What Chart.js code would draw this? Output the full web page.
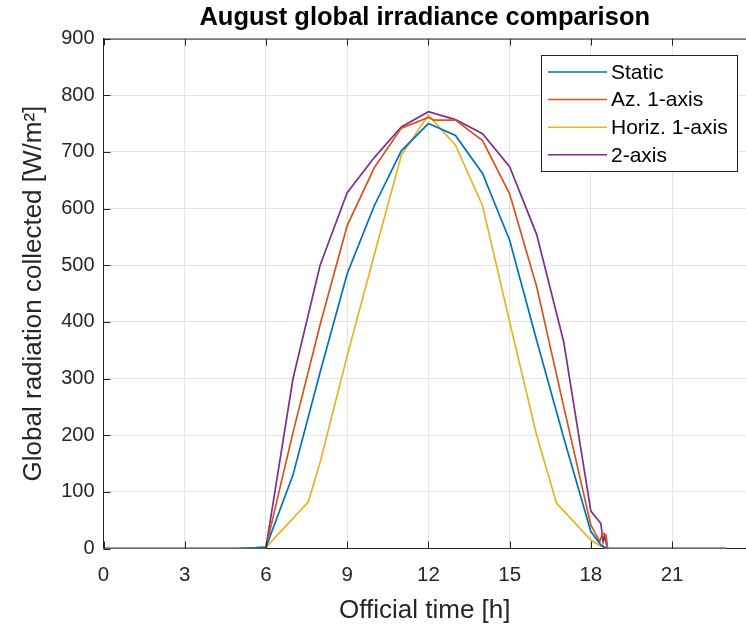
<!DOCTYPE html>
<html>
<head>
<meta charset="utf-8">
<script src="https://cdn.jsdelivr.net/npm/chart.js@4"></script>
<style>
  html, body { margin: 0; padding: 0; background: #fff; }
  #wrap { width: 746px; height: 626px; }
</style>
</head>
<body>
<div id="wrap"><canvas id="irr" width="746" height="626"></canvas></div>
<script>
// hours / values (W/m2)
const staticHours = [0, 1, 2, 3, 4, 5, 6, 7, 8, 9, 10, 11, 12, 13, 14, 15, 16, 17, 18, 18.37, 18.6, 19, 20, 21, 22, 23];
const staticValues = [0, 0, 0, 0, 0, 0, 2, 130, 311, 485, 605, 702, 750, 729, 662, 544, 367, 195, 30, 6, 0, 0, 0, 0, 0, 0];

const azHours = [0, 1, 2, 3, 4, 5, 6, 7, 8, 9, 10, 11, 12, 12.2, 13, 14, 15, 16, 17, 18, 18.33, 18.43, 18.56, 18.62, 19, 20, 21, 22, 23];
const azValues = [0, 0, 0, 0, 0, 0, 2, 205, 395, 570, 672, 742, 761, 756, 756, 720, 626, 462, 250, 41, 12, 27, 24, 0, 0, 0, 0, 0, 0];

const horizHours = [0, 1, 2, 3, 4, 5, 6, 7.56, 8, 9, 10, 11, 12, 13, 14, 15, 16, 16.73, 18, 18.37, 18.6, 19, 20, 21, 22, 23];
const horizValues = [0, 0, 0, 0, 0, 0, 2, 82, 152, 340, 518, 694, 765, 712, 605, 400, 200, 80, 15, 4, 0, 0, 0, 0, 0, 0];

const twoAxisHours = [0, 1, 2, 3, 4, 5, 6, 7, 8, 9, 10, 11, 12, 13, 14, 15, 16, 17, 18, 18.37, 18.45, 18.5, 18.62, 19, 20, 21, 22, 23];
const twoAxisValues = [0, 0, 0, 0, 0, 0, 2, 300, 500, 628, 690, 744, 771, 757, 732, 674, 554, 364, 66, 44, 12, 22, 0, 0, 0, 0, 0, 0];

const seriesLabels = ["Static", "Az. 1-axis", "Horiz. 1-axis", "2-axis"];
const seriesColors = ["#0072BD", "#D95319", "#EDB120", "#7E2F8E"];
const xTicks = [0, 3, 6, 9, 12, 15, 18, 21];

const FONT = "'Liberation Sans', Arial, Helvetica, sans-serif";
const AXIS = "#262626";

const toPoints = (hours, values) => hours.map((h, i) => ({ x: h, y: values[i] }));

const allSeries = [
  toPoints(staticHours, staticValues),
  toPoints(azHours, azValues),
  toPoints(horizHours, horizValues),
  toPoints(twoAxisHours, twoAxisValues),
];

// box on top + inward tick marks like matlab
const boxPlugin = {
  id: "boxTicks",
  afterDatasetsDraw(chart) {
    const { ctx, chartArea: a, scales } = chart;
    ctx.save();
    ctx.strokeStyle = AXIS;
    ctx.lineWidth = 1;
    ctx.beginPath();
    ctx.moveTo(a.left, a.top + 0.5);
    ctx.lineTo(a.right, a.top + 0.5);
    xTicks.forEach((t) => {
      const px = Math.round(scales.x.getPixelForValue(t)) + 0.5;
      ctx.moveTo(px, a.bottom);
      ctx.lineTo(px, a.bottom - 7);
      ctx.moveTo(px, a.top);
      ctx.lineTo(px, a.top + 7);
    });
    for (let v = 0; v <= 900; v += 100) {
      const py = Math.round(scales.y.getPixelForValue(v)) + 0.5;
      ctx.moveTo(a.left, py);
      ctx.lineTo(a.left + 7, py);
    }
    ctx.stroke();
    ctx.restore();
  },
  afterDraw(chart) {
    // legend box inside plot, top right
    const { ctx } = chart;
    const x0 = 541.5, y0 = 55.5, w = 196, h = 116;
    ctx.save();
    ctx.fillStyle = "#fff";
    ctx.fillRect(x0, y0, w, h);
    ctx.strokeStyle = AXIS;
    ctx.lineWidth = 1;
    ctx.strokeRect(x0, y0, w, h);
    ctx.font = "21px " + FONT;
    ctx.textBaseline = "middle";
    ctx.fillStyle = "#000";
    chart.data.datasets.forEach((ds, i) => {
      const y = 72 + i * 27.6;
      ctx.strokeStyle = ds.borderColor;
      ctx.lineWidth = 1.5;
      ctx.beginPath();
      ctx.moveTo(548, y);
      ctx.lineTo(607, y);
      ctx.stroke();
      ctx.fillText(ds.label, 611, y + 1);
    });
    ctx.restore();
  },
};

const irrChart = new Chart(document.getElementById("irr"), {
  type: "line",
  data: {
    datasets: allSeries.map((pts, i) => ({
      label: seriesLabels[i],
      data: pts,
      borderColor: seriesColors[i],
      backgroundColor: seriesColors[i],
      borderWidth: 1.7,
      pointRadius: 0,
      tension: 0,
      fill: false,
    })),
  },
  options: {
    responsive: false,
    animation: false,
    layout: { padding: { left: 0, right: 0, top: 0, bottom: 0 } },
    plugins: {
      legend: { display: false },
      tooltip: { enabled: false },
      title: {
        display: true,
        fullSize: false,
        text: "August global irradiance comparison",
        color: "#000",
        font: { family: FONT, size: 25.5, weight: "bold", lineHeight: 1.2 },
        padding: { top: 3, bottom: 5 },
      },
    },
    scales: {
      x: {
        type: "linear",
        min: 0,
        max: 23.73,
        afterBuildTicks: (scale) => { scale.ticks = xTicks.map((v) => ({ value: v })); },
        afterFit: (scale) => { scale.height = 77.5; },
        ticks: { color: AXIS, font: { family: FONT, size: 20.5 }, padding: 15, maxRotation: 0, autoSkip: false },
        grid: { color: "#e3e3e3", drawTicks: false },
        border: { color: AXIS, width: 1 },
        title: {
          display: true,
          text: "Official time [h]",
          color: AXIS,
          font: { family: FONT, size: 26, lineHeight: 1.2 },
          padding: { top: 5, bottom: 0 },
        },
      },
      y: {
        min: 0,
        max: 900,
        afterFit: (scale) => { scale.width = 103.5; },
        ticks: { stepSize: 100, color: AXIS, font: { family: FONT, size: 20 }, padding: 9 },
        grid: { color: "#e3e3e3", drawTicks: false },
        border: { color: AXIS, width: 1 },
        title: {
          display: true,
          text: "Global radiation collected [W/m²]",
          color: AXIS,
          font: { family: FONT, size: 26, lineHeight: 1.2 },
          padding: { top: 18, bottom: 0 },
        },
      },
    },
  },
  plugins: [boxPlugin],
});
</script>
</body>
</html>
